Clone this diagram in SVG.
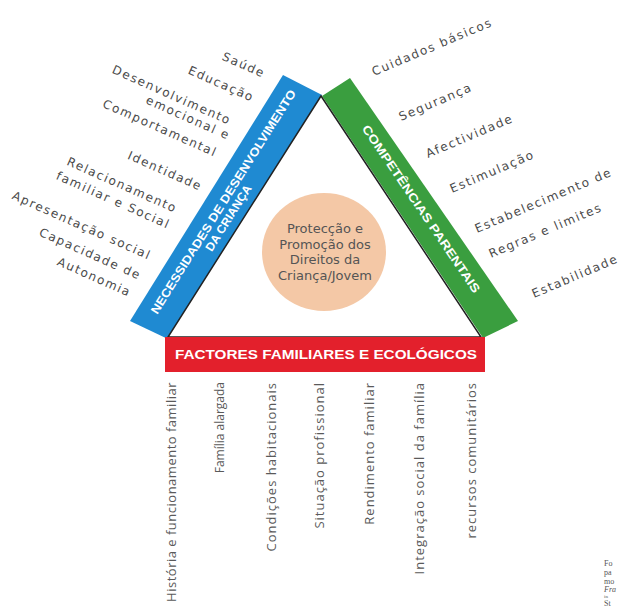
<svg xmlns="http://www.w3.org/2000/svg" width="621" height="608" viewBox="0 0 621 608">
<style>
.lbl{font-family:"DejaVu Sans",Verdana,sans-serif;font-size:12px;fill:#4a4a4a;letter-spacing:1.6px}
.l{text-anchor:end}
.bot{font-family:"Open Sans","Liberation Sans",sans-serif;font-size:13px;fill:#5a5a5a;text-anchor:end;letter-spacing:1px}
.band{font-family:"Liberation Sans",Arial,sans-serif;font-weight:bold;fill:#fff;text-anchor:middle}
.ctr{font-family:"DejaVu Sans",Verdana,sans-serif;font-size:13px;fill:#555;text-anchor:middle}
.cap{font-family:"Liberation Serif",serif;font-size:8px;fill:#555}
</style>
<rect width="621" height="608" fill="#fff"/>
<g id="necessidades">
<polygon points="283,75 322,95 170,340 130,321" fill="#1F8AD2"/>
<g transform="translate(226,207) rotate(-57.9)">
<text class="band" x="3" y="-1" font-size="12" textLength="262" lengthAdjust="spacingAndGlyphs">NECESSIDADES DE DESENVOLVIMENTO</text>
<text class="band" x="-8" y="12" font-size="12">DA CRIANÇA</text>
</g>
</g>
<g id="competencias">
<polygon points="322,96 350,78 518,321 483,338" fill="#3A9E3F"/>
<g transform="translate(421,209) rotate(55.8)">
<text class="band" x="0" y="4" font-size="12" textLength="200" lengthAdjust="spacingAndGlyphs">COMPETÊNCIAS PARENTAIS</text>
</g>
</g>
<g id="triangulo">
<polygon points="321,96 168,337 481,337" fill="#fff" stroke="#222" stroke-width="1.5"/>
</g>
<g id="factores">
<rect x="165" y="337" width="320" height="35" fill="#E3202C"/>
<text class="band" x="326" y="359" font-size="13" textLength="302" lengthAdjust="spacingAndGlyphs">FACTORES FAMILIARES E ECOLÓGICOS</text>
</g>
<g id="centro">
<ellipse cx="324" cy="252" rx="62" ry="59" fill="#F4C8A6"/>
<text class="ctr" x="325" y="233">Protecção e</text>
<text class="ctr" x="325" y="248.5">Promoção dos</text>
<text class="ctr" x="325" y="264">Direitos da</text>
<text class="ctr" x="325" y="279.5">Criança/Jovem</text>
</g>
<g id="labels-necessidades" class="lbl">
<text class="l" transform="translate(263,78) rotate(24)">Saúde</text>
<text class="l" transform="translate(252,102) rotate(24)">Educação</text>
<text class="l" transform="translate(229,125) rotate(24)">Desenvolvimento</text>
<text class="l" transform="translate(228,140) rotate(24)">emocional e</text>
<text class="l" transform="translate(215,157) rotate(24)">Comportamental</text>
<text class="l" transform="translate(200,191) rotate(24)">Identidade</text>
<text class="l" transform="translate(175,213) rotate(24)">Relacionamento</text>
<text class="l" transform="translate(168,229) rotate(24)">familiar e Social</text>
<text class="l" transform="translate(149,260) rotate(24)">Apresentação social</text>
<text class="l" transform="translate(139,280) rotate(24)">Capacidade de</text>
<text class="l" transform="translate(129,297) rotate(24)">Autonomia</text>
</g>
<g id="labels-competencias" class="lbl">
<text transform="translate(374,76) rotate(-23)">Cuidados básicos</text>
<text transform="translate(401,121) rotate(-23)">Segurança</text>
<text transform="translate(428,158) rotate(-23)">Afectividade</text>
<text transform="translate(452,193) rotate(-23)">Estimulação</text>
<text transform="translate(477,233) rotate(-23)">Estabelecimento de</text>
<text transform="translate(491,258) rotate(-23)">Regras e limites</text>
<text transform="translate(534,298) rotate(-23)">Estabilidade</text>
</g>
<g id="labels-factores" class="bot">
<text transform="translate(176,382) rotate(-90)" style="letter-spacing:0.5px">História e funcionamento familiar</text>
<text transform="translate(224,382) rotate(-90)" style="font-size:12px;letter-spacing:0">Família alargada</text>
<text transform="translate(276,382) rotate(-90)">Condições habitacionais</text>
<text transform="translate(324,382) rotate(-90)">Situação profissional</text>
<text transform="translate(374,382) rotate(-90)">Rendimento familiar</text>
<text transform="translate(424,382) rotate(-90)">Integração social da família</text>
<text transform="translate(476,382) rotate(-90)">recursos comunitários</text>
</g>
<g id="legenda" class="cap">
<text x="604" y="566">Fo</text>
<text x="604" y="575">pa</text>
<text x="604" y="584">mo</text>
<text x="604" y="592" font-style="italic">Fra</text>
<text x="604" y="598" font-size="5">in</text>
<text x="604" y="606">St</text>
</g>
</svg>
